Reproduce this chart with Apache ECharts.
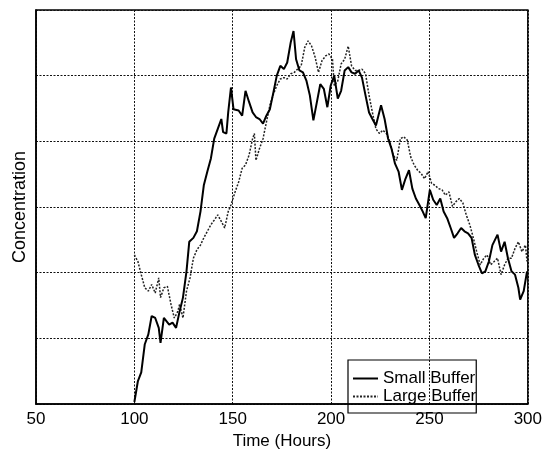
<!DOCTYPE html>
<html>
<head>
<meta charset="utf-8">
<script src="https://cdn.jsdelivr.net/npm/echarts@6/dist/echarts.min.js"></script>
<style>html,body{margin:0;padding:0;background:#fff;}#c{width:545px;height:455px;}</style>
</head>
<body>
<div id="c"></div>
<script>
var xTicks = [50, 100, 150, 200, 250, 300];
var seriesNames = ['Small Buffer', 'Large Buffer'];

var hoursSmall = [100,101.8,103.5,105.3,107.1,108.8,110.6,112.4,113.3,115.0,117.7,119.4,121.2,123.0,124.7,126.5,127.9,130.0,131.8,133.6,135.3,137.1,138.9,140.6,142.4,144.2,145.1,146.8,147.7,149.1,150.4,153.0,154.8,156.5,158.3,160.1,161.8,163.6,165.4,167.1,168.9,170.7,172.4,174.2,176.0,177.7,179.5,180.9,182.2,183.9,185.7,187.5,189.2,191.0,192.8,194.5,196.3,198.1,199.8,201.6,203.4,205.1,206.9,208.7,210.4,212.2,214.0,215.7,217.5,219.3,221.0,222.8,225.4,227.2,229.0,230.7,232.5,234.3,236.0,237.8,239.6,241.3,243.1,244.9,246.6,248.1,250.2,251.9,253.7,255.5,257.2,259.0,260.8,262.5,264.3,266.1,267.8,269.6,271.4,273.1,274.9,276.7,278.4,280.2,282.0,284.6,286.4,288.2,289.9,291.7,293.5,295.2,296.1,297.9,299.6];
var valuesSmall = [0.03,0.35,0.48,0.91,1.06,1.34,1.31,1.16,0.93,1.31,1.21,1.24,1.16,1.41,1.62,2.02,2.47,2.53,2.63,2.93,3.33,3.54,3.74,4.04,4.19,4.34,4.14,4.12,4.44,4.82,4.49,4.47,4.39,4.77,4.60,4.44,4.37,4.34,4.27,4.39,4.49,4.75,5.0,5.15,5.10,5.20,5.51,5.68,5.25,5.08,5.05,4.92,4.70,4.32,4.60,4.87,4.80,4.52,4.85,5.0,4.65,4.77,5.08,5.13,5.05,5.03,5.08,4.97,4.70,4.44,4.34,4.24,4.55,4.34,4.04,3.89,3.66,3.54,3.26,3.43,3.56,3.28,3.13,3.03,2.93,2.83,3.26,3.11,3.03,3.13,2.93,2.83,2.68,2.53,2.60,2.68,2.63,2.60,2.53,2.27,2.12,1.99,2.02,2.17,2.42,2.58,2.32,2.47,2.22,2.02,1.97,1.77,1.59,1.72,2.02];

var hoursLarge = [100,101.8,103.5,105.3,107.1,108.8,110.6,112.4,113.3,115.0,116.8,118.6,120.3,122.1,123.0,124.7,126.5,128.3,130.0,131.8,133.6,135.3,137.1,138.9,140.6,142.4,144.2,145.9,147.7,149.1,151.2,153.0,154.8,156.5,158.3,160.1,161.0,161.8,163.6,165.4,167.1,168.9,170.7,172.4,174.2,176.0,177.7,179.5,181.3,183.0,184.8,186.6,188.3,190.1,191.9,193.6,195.4,197.2,198.9,200.7,201.6,203.4,205.1,206.9,208.7,210.4,212.2,214.0,215.7,217.5,219.3,221.0,222.8,224.6,226.3,228.1,229.9,231.6,233.4,235.2,236.9,238.7,240.5,242.2,244.0,245.8,247.5,249.3,251.1,252.8,254.6,256.4,258.1,259.9,261.7,263.4,265.2,267.0,268.7,270.5,272.3,274.0,275.8,277.6,279.3,281.1,282.9,284.6,286.4,288.2,289.9,291.7,293.5,295.2,297.0,298.8,299.6];
var valuesLarge = [2.27,2.17,1.97,1.77,1.72,1.82,1.69,1.92,1.62,1.77,1.79,1.52,1.31,1.41,1.52,1.31,1.72,1.92,2.22,2.35,2.42,2.53,2.63,2.73,2.80,2.88,2.78,2.68,2.93,3.03,3.23,3.38,3.59,3.64,3.79,4.04,4.12,3.71,3.89,4.04,4.29,4.55,4.72,4.85,4.95,4.97,4.95,5.03,5.05,5.10,5.15,5.43,5.53,5.45,5.28,5.05,5.23,5.30,5.33,5.25,4.85,4.92,5.18,5.25,5.45,5.15,5.08,5.08,5.10,5.03,4.70,4.44,4.19,4.12,4.17,4.12,3.99,3.79,3.71,4.04,4.07,4.02,3.76,3.64,3.56,3.51,3.43,3.54,3.36,3.33,3.28,3.26,3.18,3.23,3.01,3.08,3.13,3.06,2.88,2.73,2.53,2.32,2.12,2.22,2.27,2.12,2.17,2.22,1.97,2.12,2.22,2.22,2.37,2.47,2.32,2.42,2.17];

function zip(xs, ys) { return xs.map(function (x, i) { return [x, ys[i]]; }); }

var font = 'Liberation Sans, Arial, Helvetica, sans-serif';
var chart = echarts.init(document.getElementById('c'), null, {renderer: 'canvas'});
chart.setOption({
  animation: false,
  backgroundColor: '#fff',
  grid: {left: 36, right: 17, top: 10, bottom: 49, show: true, borderColor: '#000', borderWidth: 1.5, containLabel: false},
  xAxis: {
    type: 'value', min: xTicks[0], max: xTicks[xTicks.length - 1], interval: 50,
    name: 'Time (Hours)', nameLocation: 'middle', nameGap: 29,
    nameTextStyle: {color: '#000', fontSize: 17, fontFamily: font},
    axisLine: {show: true, lineStyle: {color: '#000', width: 1.5}},
    axisTick: {show: false},
    axisLabel: {color: '#000', fontSize: 17, fontFamily: font, margin: 7},
    splitLine: {show: true, lineStyle: {color: '#111', type: [2, 1.5], width: 1}}
  },
  yAxis: {
    type: 'value', min: 0, max: 6, interval: 1,
    name: 'Concentration', nameLocation: 'middle', nameGap: 7,
    nameTextStyle: {color: '#000', fontSize: 18, fontFamily: font},
    axisLine: {show: true, lineStyle: {color: '#000', width: 1.5}},
    axisTick: {show: false},
    axisLabel: {show: false},
    splitLine: {show: true, lineStyle: {color: '#111', type: [2, 1.5], width: 1}}
  },
  legend: {
    left: 348, top: 360, orient: 'vertical',
    borderColor: '#000', borderWidth: 1.2, padding: [10, 0, 8, 4],
    itemGap: 1, itemWidth: 25, itemHeight: 14, itemTextGap: 6,
    itemStyle: {opacity: 0, borderWidth: 0},
    textStyle: {color: '#000', fontSize: 17, fontFamily: font},
    data: seriesNames
  },
  series: [
    {name: seriesNames[0], type: 'line', symbol: 'none', data: zip(hoursSmall, valuesSmall),
     lineStyle: {color: '#000', width: 2}, itemStyle: {color: '#000'}, z: 3},
    {name: seriesNames[1], type: 'line', symbol: 'none', data: zip(hoursLarge, valuesLarge),
     lineStyle: {color: '#222', width: 1.5, type: [2, 1.5]}, itemStyle: {color: '#222'}, z: 2}
  ]
});
</script>
</body>
</html>
